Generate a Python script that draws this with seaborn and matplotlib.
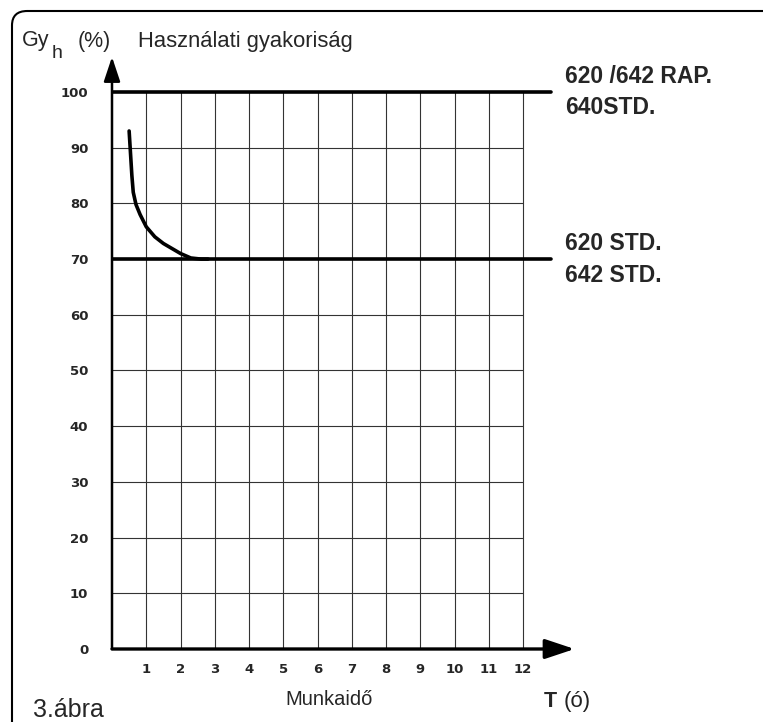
import numpy as np
import pandas as pd
import seaborn as sns
import matplotlib.pyplot as plt
from matplotlib.patches import FancyBboxPatch

# Datos
curve_t = [0.5, 0.53, 0.58, 0.62, 0.7, 0.82, 1.0, 1.25, 1.5, 2.0, 2.3, 2.6, 2.8]
curve_gy = [93, 90, 85, 82, 79.8, 78, 75.8, 74, 72.8, 71, 70.2, 70, 70]
level_values = [100, 70]
level_labels = [["620 /642 RAP.", "640STD."], ["620 STD.", "642 STD."]]
x_ticks = list(range(1, 13))
y_ticks = list(range(0, 101, 10))

sns.set_style("white")
plt.rcParams['font.family'] = ['Liberation Sans', 'DejaVu Sans']

W, H = 763, 722
fig = plt.figure(figsize=(W / 100, H / 100), dpi=100)
ax = fig.add_axes([112 / W, 73 / H, 466 / W, 596 / H])
ax.set_xlim(0, 13.6)
ax.set_ylim(0, 107)

# Rejilla
for t in x_ticks:
    ax.plot([t, t], [0, 100], color='#333333', lw=0.8, zorder=1)
for g in y_ticks[1:-1]:
    ax.plot([0, 12], [g, g], color='#333333', lw=0.8, zorder=1)

# Niveles horizontales
lv = pd.DataFrame({'t': [0, 12.82] * 2,
                   'gy': [level_values[0]] * 2 + [level_values[1]] * 2,
                   'grupo': ['a', 'a', 'b', 'b']})
sns.lineplot(data=lv, x='t', y='gy', units='grupo', estimator=None,
             color='black', lw=2.6, ax=ax, zorder=3)

# Curva
cv = pd.DataFrame({'t': curve_t, 'gy': curve_gy})
sns.lineplot(data=cv, x='t', y='gy', color='black', lw=2.6, ax=ax, zorder=3,
             sort=False)

# Ejes con flechas
for s in ax.spines.values():
    s.set_visible(False)
ax.annotate('', xy=(13.5, 0), xytext=(0, 0), annotation_clip=False,
            arrowprops=dict(arrowstyle='-|>,head_length=0.9,head_width=0.3',
                            lw=2.4, color='black',
                            mutation_scale=20, shrinkA=0, shrinkB=0))
ax.annotate('', xy=(0, 106.3), xytext=(0, 0), annotation_clip=False,
            arrowprops=dict(arrowstyle='-|>,head_length=0.75,head_width=0.25',
                            lw=1.8, color='black',
                            mutation_scale=20, shrinkA=0, shrinkB=0))

ax.set_xticks(x_ticks)
ax.set_yticks(y_ticks)
ax.set_xticklabels([str(t) for t in x_ticks], fontfamily='DejaVu Sans',
                   fontweight='bold', fontsize=9.5)
ax.set_yticklabels([str(t) for t in y_ticks], fontfamily='DejaVu Sans',
                   fontweight='bold', fontsize=9.5)
ax.tick_params(axis='y', length=0, pad=17)
ax.tick_params(axis='x', length=0, pad=10)
ax.set_xlabel('')
ax.set_ylabel('')

# Etiquetas de los niveles
for val, labs in zip(level_values, level_labels):
    ax.text(13.22, val + 0.8, labs[0], fontsize=16.5, fontweight='bold',
            va='bottom', ha='left', clip_on=False)
    ax.text(13.22, val - 0.8, labs[1], fontsize=16.5, fontweight='bold',
            va='top', ha='left', clip_on=False)

# Textos de la figura
fig.text(22 / W, 1 - 46 / H, 'Gy', fontsize=15.5, va='baseline', ha='left')
fig.text(52 / W, 1 - 58 / H, 'h', fontsize=14, va='baseline', ha='left')
fig.text(78 / W, 1 - 47 / H, '(%)', fontsize=15.5, va='baseline', ha='left')
fig.text(138 / W, 1 - 47 / H, 'Használati gyakoriság', fontsize=15.8,
         va='baseline', ha='left')
fig.text(33 / W, 1 - 717 / H, '3.ábra', fontsize=18, va='baseline', ha='left')
fig.text(329 / W, 1 - 705 / H, 'Munkaidő', fontsize=14.5, va='baseline',
         ha='center')
fig.text(544 / W, 1 - 707 / H, 'T', fontsize=15.5, fontweight='bold',
         va='baseline', ha='left')
fig.text(564 / W, 1 - 707 / H, '(ó)', fontsize=16, va='baseline', ha='left',
         color='#222222')

# Marco redondeado
fig.patches.append(FancyBboxPatch((12 / W, -0.1), 1.2, (H - 11) / H + 0.1,
                                  boxstyle='round,pad=0,rounding_size=0.02',
                                  transform=fig.transFigure, fill=False,
                                  lw=1.5, ec='black'))

fig.savefig('out.png', dpi=100)
